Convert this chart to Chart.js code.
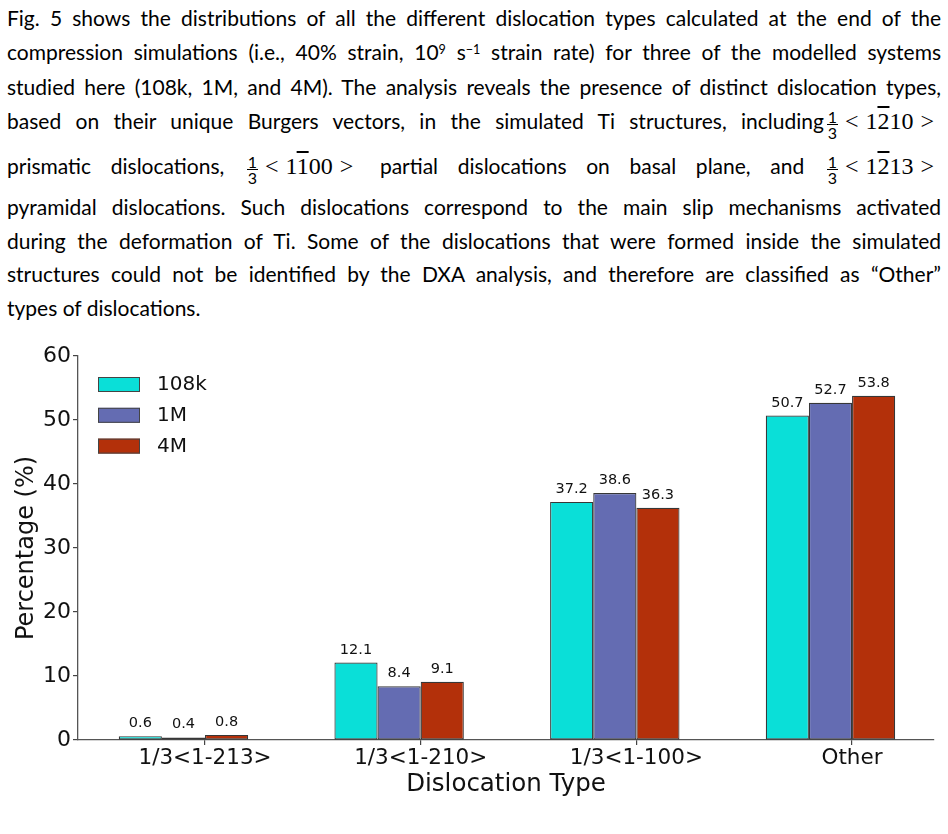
<!DOCTYPE html>
<html>
<head>
<meta charset="utf-8">
<script src="https://cdn.jsdelivr.net/npm/chart.js@4.4.0/dist/chart.umd.min.js"></script>
<style>
html,body{margin:0;padding:0;background:#fff;}
body{width:948px;height:834px;overflow:hidden;position:relative;}
.ln{position:absolute;left:7px;white-space:nowrap;font-family:Lato,"Noto Sans",sans-serif;font-size:18.5px;line-height:30px;height:30px;color:#000;}
.ln sup{font-size:0.6em;line-height:0;vertical-align:0;position:relative;top:-0.45em;}
.m{word-spacing:normal;font-family:"Liberation Serif","DejaVu Serif",serif;font-size:24px;white-space:nowrap;margin-left:3px;}
.fr{display:inline-block;vertical-align:middle;text-align:center;font-family:Lato,sans-serif;font-size:16px;line-height:13px;width:11px;position:relative;top:1px;}
.fr .fb{display:block;height:1.3px;background:#000;margin:1px 0 1px 0;}
.fr span{display:block;}
.rel{margin:0 7px;}
.ob{text-decoration:overline;text-decoration-thickness:1.6px;}
#wrap{position:absolute;left:0;top:330px;width:948px;height:504px;}
</style>
</head>
<body>
<div id="text"></div>
<div id="wrap"><canvas id="c" width="948" height="504"></canvas></div>
<script>
// ---------- data ----------
const categories = ['1/3<1-213>', '1/3<1-210>', '1/3<1-100>', 'Other'];
const seriesNames = ['108k', '1M', '4M'];
const values108k = [0.6, 12.1, 37.2, 50.7];
const values1M = [0.4, 8.4, 38.6, 52.7];
const values4M = [0.8, 9.1, 36.3, 53.8];
const yTicks = [0, 10, 20, 30, 40, 50, 60];
const seriesColors = ['#0ADFD8', '#646CB2', '#B3300A'];

// ---------- paragraph text ----------
function mathVec(a, b, c, d) {
  return '<span class="m"><span class="fr"><span>1</span><span class="fb"></span><span>3</span></span>' +
    '<span class="rel">&lt;</span>' + a + '<span class="ob">' + b + '</span>' + c + d +
    '<span class="rel">&gt;</span></span>';
}
const textLines = [
  {y: 18, j: true, html: 'Fig. 5 shows the distributions of all the different dislocation types calculated at the end of the'},
  {y: 52, j: true, html: 'compression simulations (i.e., 40% strain, 10<sup>9</sup> s<sup>\u22121</sup> strain rate) for three of the modelled systems'},
  {y: 87, j: true, html: 'studied here (108k, 1M, and 4M). The analysis reveals the presence of distinct dislocation types,'},
  {y: 121, j: true, html: 'based on their unique Burgers vectors, in the simulated Ti structures, including' + mathVec('1', '2', '1', '0')},
  {y: 166, j: true, html: 'prismatic dislocations, ' + mathVec('1', '1', '0', '0') + ' partial dislocations on basal plane, and ' + mathVec('1', '2', '1', '3')},
  {y: 207, j: true, html: 'pyramidal dislocations. Such dislocations correspond to the main slip mechanisms activated'},
  {y: 241, j: true, html: 'during the deformation of Ti. Some of the dislocations that were formed inside the simulated'},
  {y: 274, j: true, html: 'structures could not be identified by the DXA analysis, and therefore are classified as \u201cOther\u201d'},
  {y: 308, j: false, html: 'types of dislocations.'}
];
const textBox = document.getElementById('text');
textLines.forEach(l => {
  const d = document.createElement('div');
  d.className = 'ln' + (l.j ? ' j' : '');
  d.style.top = (l.y - 15) + 'px';
  d.innerHTML = l.html;
  textBox.appendChild(d);
});
function countSpaces(node) {
  let n = 0;
  node.childNodes.forEach(ch => {
    if (ch.nodeType === 3) n += (ch.textContent.match(/ /g) || []).length;
    else if (ch.nodeType === 1 && !ch.classList.contains('m')) n += countSpaces(ch);
  });
  return n;
}
function justify() {
  const target = 934;
  const lns = Array.from(document.querySelectorAll('.ln'));
  const js = lns.filter(el => el.classList.contains('j'));
  lns.forEach(el => { el.style.wordSpacing = '0px'; el.style.fontSize = '18.5px'; });
  let f = Infinity;
  js.forEach(el => { f = Math.min(f, target / el.getBoundingClientRect().width); });
  const size = Math.min(18.5 * f * 0.995, 21);
  lns.forEach(el => { el.style.fontSize = size + 'px'; });
  js.forEach(el => {
    const nat = el.getBoundingClientRect().width;
    const sp = countSpaces(el);
    if (sp > 0) el.style.wordSpacing = ((target - nat) / sp) + 'px';
  });
}
justify();
if (document.fonts && document.fonts.ready) document.fonts.ready.then(justify);

// ---------- chart ----------
const seriesValues = [values108k, values1M, values4M];
const datasets = seriesNames.map((name, si) => ({
  label: name,
  data: seriesValues[si].map((v, i) => ({x: i, y: v})),
  backgroundColor: seriesColors[si],
  borderColor: 'rgba(20,20,20,0.85)',
  borderWidth: 1.2,
  borderSkipped: false,
  categoryPercentage: 0.6,
  barPercentage: 1.0
}));

const valueLabels = {
  id: 'valueLabels',
  afterDatasetsDraw(chart) {
    const ctx = chart.ctx;
    ctx.save();
    ctx.font = '14.5px "DejaVu Sans"';
    ctx.fillStyle = '#111';
    ctx.textAlign = 'center';
    ctx.textBaseline = 'alphabetic';
    chart.data.datasets.forEach((ds, di) => {
      chart.getDatasetMeta(di).data.forEach((bar, i) => {
        ctx.fillText(ds.data[i].y.toFixed(1), bar.x, bar.y - 9);
      });
    });
    ctx.restore();
  }
};

const boxLegend = {
  id: 'boxLegend',
  afterDraw(chart) {
    const ctx = chart.ctx;
    const a = chart.chartArea;
    ctx.save();
    chart.data.datasets.forEach((ds, i) => {
      const x = a.left + 20, y = a.top + 21 + i * 30.8;
      ctx.fillStyle = ds.backgroundColor;
      ctx.fillRect(x, y, 42, 15);
      ctx.strokeStyle = '#444';
      ctx.lineWidth = 1;
      ctx.strokeRect(x + 0.5, y + 0.5, 41, 14);
      ctx.fillStyle = '#111';
      ctx.font = '20px "DejaVu Sans"';
      ctx.textAlign = 'left';
      ctx.textBaseline = 'middle';
      ctx.fillText(ds.label, x + 59, y + 8);
    });
    ctx.restore();
  }
};

new Chart(document.getElementById('c'), {
  type: 'bar',
  data: {datasets},
  options: {
    responsive: false,
    devicePixelRatio: 1,
    animation: false,
    layout: {padding: {top: 26, right: 14, bottom: 0, left: 0}},
    plugins: {legend: {display: false}, tooltip: {enabled: false}},
    scales: {
      x: {
        type: 'linear',
        offset: false,
        min: -0.489,
        max: 3.48,
        afterBuildTicks(scale) { scale.ticks = categories.map((c, i) => ({value: i + 0.1})); },
        afterFit(scale) { scale.height = 94; },
        ticks: {
          autoSkip: false, maxRotation: 0, minRotation: 0, padding: 1,
          color: '#111', font: {family: 'DejaVu Sans', size: 21.5},
          callback: (v, idx) => categories[idx]
        },
        grid: {display: true, offset: false, drawOnChartArea: false, drawTicks: true, tickLength: 5, color: '#444', lineWidth: 1.2},
        border: {display: true, color: '#555', width: 1.3},
        title: {display: true, text: 'Dislocation Type', color: '#111', font: {family: 'DejaVu Sans', size: 24.5}, padding: {top: 0, bottom: 35}}
      },
      y: {
        type: 'linear',
        min: yTicks[0],
        max: yTicks[yTicks.length - 1],
        afterBuildTicks(scale) { scale.ticks = yTicks.map(v => ({value: v})); },
        afterFit(scale) { scale.width = 78; },
        ticks: {padding: 2, color: '#111', font: {family: 'DejaVu Sans', size: 22}},
        grid: {display: true, drawOnChartArea: false, drawTicks: true, tickLength: 5, color: '#444', lineWidth: 1.2},
        border: {display: true, color: '#555', width: 1.3},
        title: {display: true, text: 'Percentage (%)', color: '#111', font: {family: 'DejaVu Sans', size: 24}, padding: {top: 12, bottom: 0}}
      }
    }
  },
  plugins: [valueLabels, boxLegend]
});
</script>
</body>
</html>
